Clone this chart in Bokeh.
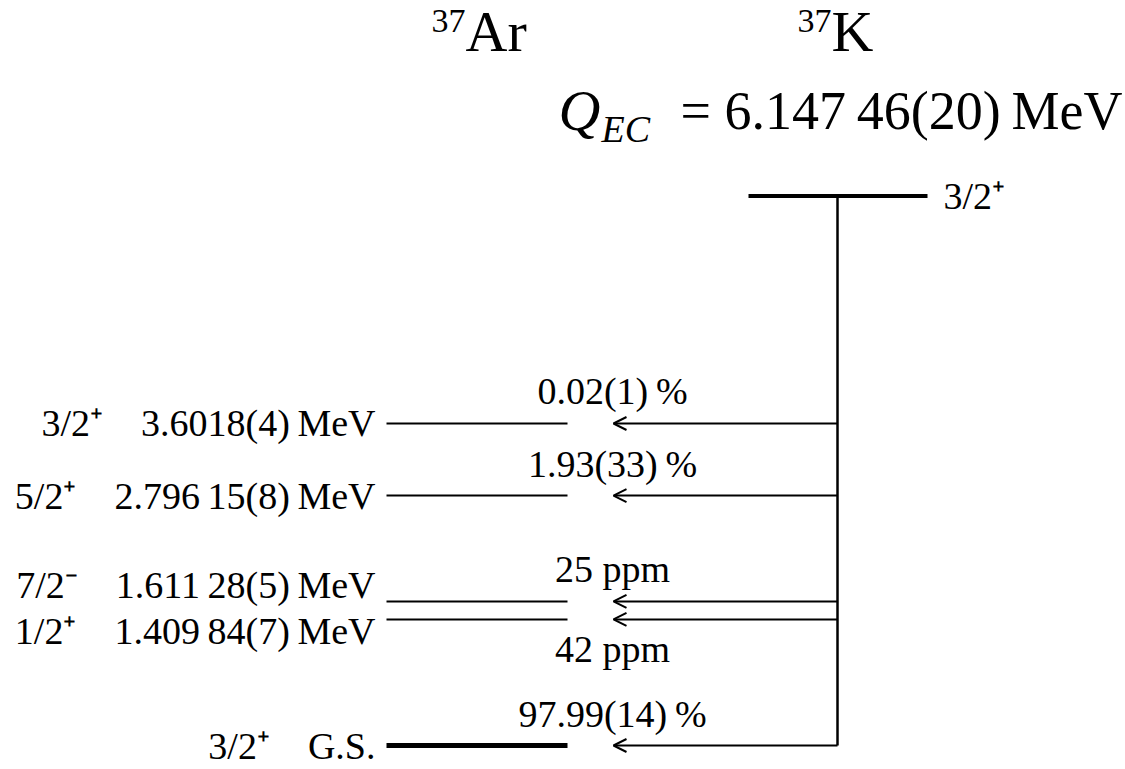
from bokeh.plotting import figure
from bokeh.models import ColumnDataSource, Arrow, OpenHead
from bokeh.core.properties import value
from bokeh.embed import file_html
from bokeh.resources import INLINE

# ---- data ----
daughter_energies = [3.6018, 2.79615, 1.61128, 1.40984, 0.0]
daughter_spins = ["3/2\u207a", "5/2\u207a", "7/2\u207b", "1/2\u207a", "3/2\u207a"]
daughter_energy_labels = ["3.6018(4)\u2009MeV", "2.796\u200915(8)\u2009MeV", "1.611\u200928(5)\u2009MeV",
                          "1.409\u200984(7)\u2009MeV", "G.S."]
branching_labels = ["0.02(1)\u2009%", "1.93(33)\u2009%", "25 ppm", "42 ppm", "97.99(14)\u2009%"]
branching_side = ["above", "above", "above", "below", "above"]
label_shift = ["none", "none", "up", "down", "none"]
parent_energy = 6.14746
parent_spin = "3/2\u207a"
parent_name = "K"
daughter_name = "Ar"
mass_number = "37"
q_value_label = "= 6.147\u200946(20)\u2009MeV"

# ---- layout ----
W, H = 1125, 769
PPM = 89.4                     # pixels per MeV
y_lo, y_hi = -(H - 745) / PPM, 745 / PPM
FONT = value("Liberation Serif")


def sy(px):
    """screen-pixel row -> data y"""
    return (745 - px) / PPM


p = figure(width=W, height=H, x_range=(0, W), y_range=(y_lo, y_hi),
           x_axis_type=None, y_axis_type=None, toolbar_location=None,
           output_backend="svg", min_border=0)
p.grid.visible = False
p.outline_line_color = None
p.background_fill_color = "white"

d_x0, d_x1 = 386, 567
p_x0, p_x1 = 748, 927
v_x = 837
arrow_end = 613

n = len(daughter_energies)
lw = [5 if e == 0 else 2 for e in daughter_energies]
shift_px = {"none": 0, "up": -16, "down": 12}
lev = ColumnDataSource(dict(
    x0=[d_x0] * n, x1=[d_x1] * n,
    y=daughter_energies, lw=lw,
    lab=[s + "\u2002\u2002" + e for s, e in zip(daughter_spins, daughter_energy_labels)],
    lx=[d_x0 - 11] * n,
    ly=[e - shift_px[s] / PPM for e, s in zip(daughter_energies, label_shift)],
    xs=[v_x] * n, xe=[arrow_end] * n,
    br=branching_labels,
    by=[e + (32 / PPM if s == "above" else -30 / PPM) for e, s in zip(daughter_energies, branching_side)],
    bx=[arrow_end - 1] * n,
))

p.segment(x0="x0", y0="y", x1="x1", y1="y", line_width="lw", line_color="black", source=lev)
p.text(x="lx", y="ly", text="lab", text_align="right", text_baseline="middle",
       text_font=FONT, text_font_size=value("38px"), text_color="black", source=lev)
p.text(x="bx", y="by", text="br", text_align="center", text_baseline="middle",
       text_font=FONT, text_font_size=value("38px"), text_color="black", source=lev)

p.add_layout(Arrow(end=OpenHead(size=13, line_width=2, line_color="black"),
                   x_start="xs", y_start="y", x_end="xe", y_end="y",
                   line_width=2, line_color="black", source=lev))

# parent level and vertical line
p.segment(x0=[p_x0], y0=[parent_energy], x1=[p_x1], y1=[parent_energy], line_width=4, line_color="black")
p.segment(x0=[v_x], y0=[parent_energy], x1=[v_x], y1=[min(daughter_energies)], line_width=2.5, line_color="black")
p.text(x=[p_x1 + 16], y=[parent_energy], text=[parent_spin], text_align="left", text_baseline="middle",
       text_font=FONT, text_font_size=value("38px"), text_color="black")

# nuclide names
for name, xx in [(daughter_name, 465), (parent_name, 831)]:
    p.text(x=[xx], y=[sy(31)], text=[name], text_align="left", text_baseline="middle",
           text_font=FONT, text_font_size=value("58px"), text_color="black")
    p.text(x=[xx], y=[sy(20)], text=[mass_number], text_align="right", text_baseline="middle",
           text_font=FONT, text_font_size=value("34px"), text_color="black")

# Q value
p.text(x=[558], y=[sy(110)], text=["Q"], text_align="left", text_baseline="middle",
       text_font=FONT, text_font_style="italic", text_font_size=value("58px"), text_color="black")
p.text(x=[601], y=[sy(128)], text=["EC"], text_align="left", text_baseline="middle",
       text_font=FONT, text_font_style="italic", text_font_size=value("38px"), text_color="black")
p.text(x=[680], y=[sy(110)], text=[q_value_label], text_align="left", text_baseline="middle",
       text_font=FONT, text_font_size=value("54px"), text_color="black")

open("out.html", "w").write(file_html(p, INLINE))
